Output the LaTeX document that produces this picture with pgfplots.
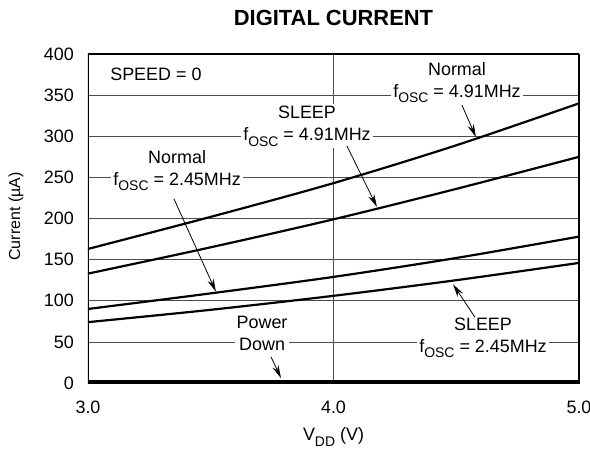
\documentclass[border=0pt]{standalone}
\usepackage{pgfplots}
\pgfplotsset{compat=1.18}
\usetikzlibrary{arrows.meta}
\usepackage{fontspec}
\setmainfont{Liberation Sans}
% lowered subscript as in the data sheet
\newcommand{\sub}[1]{\raisebox{-0.3em}{\fontsize{14}{14}\selectfont #1}}

\begin{document}
\fontsize{18}{22}\selectfont
\begin{tikzpicture}[
    lbl/.style={fill=white, align=center, inner sep=2pt},
    arr/.style={-{Stealth[length=13bp,width=6.5bp]}, line width=0.8pt},
    crv/.style={black, line width=2.2pt, smooth, no markers},
]
\useasboundingbox (-88bp,-66bp) rectangle (502bp,383bp);
\begin{axis}[
    at={(0,0)}, anchor=south west,
    scale only axis,
    width=491bp, height=329bp,
    xmin=3, xmax=5, ymin=0, ymax=400,
    xtick={3,4,5}, xticklabels={3.0,4.0,5.0},
    ytick={0,50,...,400},
    /pgf/number format/assume math mode=true,
    grid=major,
    grid style={black!70, line width=0.6pt},
    major tick length=0pt,
    yticklabel style={xshift=-8bp},
    xticklabel style={yshift=-12bp},
    title={DIGITAL CURRENT},
    title style={at={(axis description cs:0.5,1)}, anchor=center, yshift=30bp,
        font=\fontsize{22}{26}\selectfont\bfseries},
    xlabel={V\sub{DD} (V)},
    xlabel style={at={(axis description cs:0.5,-0.164)}, anchor=center},
    ylabel={Current (µA)},
    ylabel style={at={(axis description cs:-0.1466,0.506)}, anchor=center,
        font=\fontsize{16}{19}\selectfont},
]
% Normal, fosc = 4.91MHz
\addplot[crv] coordinates {(3.0,163) (3.5,202) (4.0,243) (4.5,289) (5.0,340)};
% SLEEP, fosc = 4.91MHz
\addplot[crv] coordinates {(3.0,133) (3.5,165) (4.0,199) (4.5,236) (5.0,275)};
% Normal, fosc = 2.45MHz
\addplot[crv] coordinates {(3.0,90) (3.5,109) (4.0,129) (4.5,152) (5.0,178)};
% SLEEP, fosc = 2.45MHz
\addplot[crv] coordinates {(3.0,74) (3.5,89) (4.0,106) (4.5,125) (5.0,146)};
% Power Down
\addplot[crv] coordinates {(3.0,2.5) (4.0,2.5) (5.0,2.5)};

\node[anchor=west, inner sep=0pt] at (axis cs:3.09,375) {SPEED = 0};
\node[lbl] at (axis cs:4.503,365) {Normal\\f\sub{OSC} = 4.91MHz};
\node[lbl] at (axis cs:3.892,312) {SLEEP\\f\sub{OSC} = 4.91MHz};
\node[lbl] at (axis cs:3.363,258) {Normal\\f\sub{OSC} = 2.45MHz};
\node[lbl] at (axis cs:3.709,60) {Power\\Down};
\node[lbl] at (axis cs:4.609,55) {SLEEP\\f\sub{OSC} = 2.45MHz};

\draw[arr] (axis cs:4.523,338) -- (axis cs:4.580,299);
\draw[arr] (axis cs:4.055,288) -- (axis cs:4.177,214);
\draw[arr] (axis cs:3.350,224) -- (axis cs:3.521,111);
\draw[arr] (axis cs:3.745,32) -- (axis cs:3.786,6);
\draw[arr] (axis cs:4.576,80) -- (axis cs:4.487,120);

% heavy frame of the plot area
\draw[line width=2.5pt] (rel axis cs:0,0) rectangle (rel axis cs:1,1);
\end{axis}
\end{tikzpicture}
\end{document}
